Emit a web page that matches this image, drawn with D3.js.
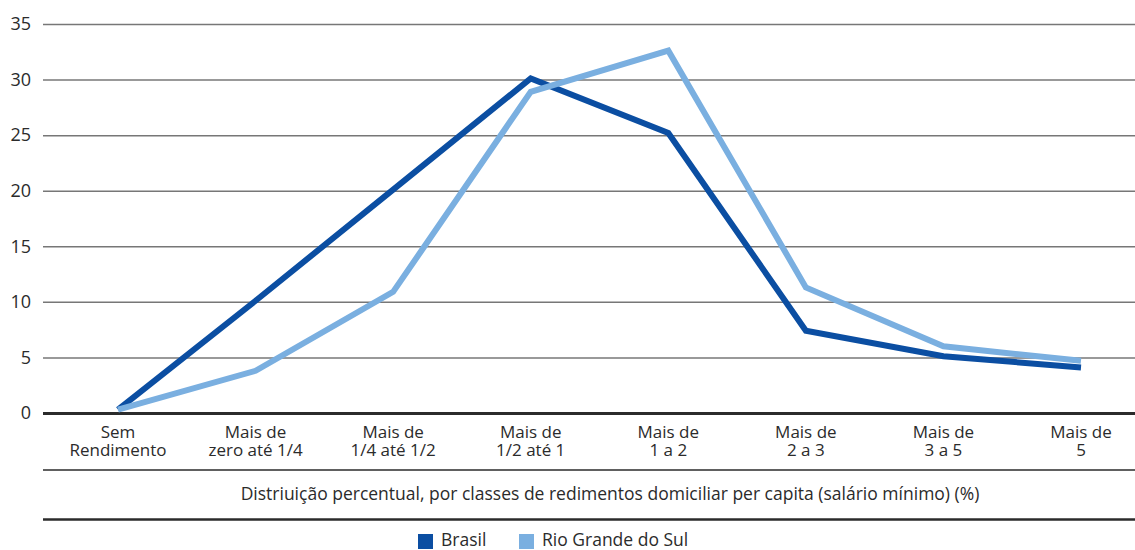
<!DOCTYPE html>
<html>
<head>
  <meta charset="utf-8">
  <script src="https://cdn.jsdelivr.net/npm/d3@7"></script>
  <style>
    body { margin: 0; background: #fff; }
    text { font-family: "Open Sans", Roboto, sans-serif; fill: #2b2b2b; }
  </style>
</head>
<body>
  <svg width="1135" height="550" id="chart"></svg>
  <script>
    // data
    const categories = [
      ['Sem', 'Rendimento'],
      ['Mais de', 'zero até 1/4'],
      ['Mais de', '1/4 até 1/2'],
      ['Mais de', '1/2 até 1'],
      ['Mais de', '1 a 2'],
      ['Mais de', '2 a 3'],
      ['Mais de', '3 a 5'],
      ['Mais de', '5']
    ];
    const brasil = [0.3, 10.1, 20.1, 30.1, 25.2, 7.4, 5.1, 4.1];
    const rgs = [0.3, 3.8, 10.9, 28.9, 32.6, 11.3, 6.0, 4.7];
    const yTicks = [0, 5, 10, 15, 20, 25, 30, 35];
    const seriesNames = ['Brasil', 'Rio Grande do Sul'];
    const xTitle = 'Distriuição percentual, por classes de redimentos domiciliar per capita (salário mínimo) (%)';

    const svg = d3.select('#chart');
    const left = 43, right = 1135;
    const colors = { 'Brasil': '#0b4ea2', 'Rio Grande do Sul': '#7aafe0' };

    const xScale = d3.scalePoint()
      .domain(d3.range(categories.length))
      .range([118, 1081]);
    const yScale = d3.scaleLinear()
      .domain([0, 35])
      .range([413, 24]);

    // y axis with gridlines
    const yAxis = d3.axisLeft(yScale)
      .tickValues(yTicks)
      .tickSize(-(right - left))
      .tickPadding(12);
    const yg = svg.append('g')
      .attr('transform', `translate(${left}, 0)`)
      .call(yAxis);
    yg.select('.domain').remove();
    yg.selectAll('.tick line')
      .attr('stroke', d => d === 0 ? '#2b2b2b' : '#777')
      .attr('stroke-width', d => d === 0 ? 3 : 1.5);
    yg.selectAll('.tick text')
      .attr('font-size', 18)
      .attr('font-family', '"Open Sans", sans-serif')
      .attr('fill', '#2b2b2b');

    // category labels, two lines each
    const xg = svg.append('g');
    categories.forEach((c, i) => {
      const t = xg.append('text')
        .attr('x', xScale(i))
        .attr('y', 438)
        .attr('text-anchor', 'middle')
        .attr('font-size', 17);
      t.append('tspan').attr('x', xScale(i)).text(c[0]);
      t.append('tspan').attr('x', xScale(i)).attr('dy', 18).text(c[1]);
    });

    svg.append('line')
      .attr('x1', left).attr('x2', right)
      .attr('y1', 470).attr('y2', 470)
      .attr('stroke', '#2b2b2b').attr('stroke-width', 1.5);

    svg.append('text')
      .attr('x', 610).attr('y', 500)
      .attr('text-anchor', 'middle')
      .attr('font-size', 17.5)
      .text(xTitle);

    svg.append('line')
      .attr('x1', left).attr('x2', right)
      .attr('y1', 519.5).attr('y2', 519.5)
      .attr('stroke', '#2b2b2b').attr('stroke-width', 2.5);

    // lines
    const line = d3.line()
      .x((d, i) => xScale(i))
      .y(d => yScale(d));
    [['Brasil', brasil], ['Rio Grande do Sul', rgs]].forEach(([name, vals]) => {
      svg.append('path')
        .datum(vals)
        .attr('fill', 'none')
        .attr('stroke', colors[name])
        .attr('stroke-width', 6)
        .attr('stroke-linejoin', 'miter')
        .attr('d', line);
    });

    // legend
    const legendX = [418, 519];
    const lg = svg.append('g');
    seriesNames.forEach((s, i) => {
      lg.append('rect')
        .attr('x', legendX[i]).attr('y', 534)
        .attr('width', 15).attr('height', 15)
        .attr('fill', colors[s]);
      lg.append('text')
        .attr('x', legendX[i] + 23).attr('y', 546)
        .attr('font-size', 17.5)
        .text(s);
    });
  </script>
</body>
</html>
